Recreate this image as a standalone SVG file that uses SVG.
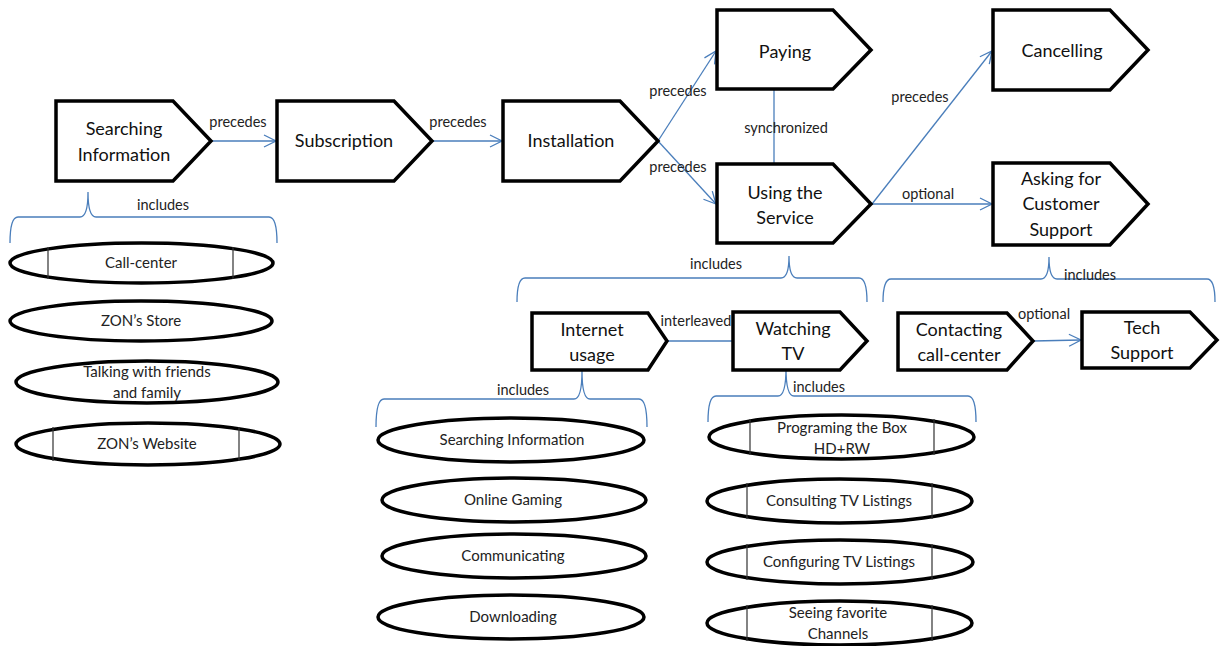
<svg xmlns="http://www.w3.org/2000/svg" width="1220" height="646" viewBox="0 0 1220 646">
<style>
.node{fill:#fff;stroke:#000;stroke-width:3.5;stroke-linejoin:miter}
.nt{font-family:Lato,"Liberation Sans",sans-serif;font-size:18px;fill:#111;text-anchor:middle}
.el{fill:#fff;stroke:#000;stroke-width:3.5}
.vl{stroke:#333;stroke-width:1.2}
.et{font-family:Lato,"Liberation Sans",sans-serif;font-size:15px;fill:#222;text-anchor:middle}
.cn{fill:none;stroke:#4a7ebb;stroke-width:1.3}
.lb{font-family:Lato,"Liberation Sans",sans-serif;font-size:14.5px;fill:#222;text-anchor:middle}
</style>
<defs>
<marker id="arr" markerUnits="userSpaceOnUse" markerWidth="16" markerHeight="16" refX="13" refY="7" orient="auto">
<path d="M1,1 L13,7 L1,13" fill="none" stroke="#4a7ebb" stroke-width="1.3"/>
</marker>
</defs>
<rect width="1220" height="646" fill="#fff"/>

<g id="connectors">
<path class="cn" d="M212,141 H276" marker-end="url(#arr)"/>
<path class="cn" d="M432,141 H502" marker-end="url(#arr)"/>
<path class="cn" d="M658,141 L716,51" marker-end="url(#arr)"/>
<path class="cn" d="M658,141 L716,204" marker-end="url(#arr)"/>
<path class="cn" d="M774,89 V164"/>
<path class="cn" d="M872,204 L992,51" marker-end="url(#arr)"/>
<path class="cn" d="M872,204 H992" marker-end="url(#arr)"/>
<path class="cn" d="M667,341 H733"/>
<path class="cn" d="M1033,341 L1081,340" marker-end="url(#arr)"/>
<path class="cn" d="M10,243 Q10,217 18,217 H80 Q88,217 88,192 Q88,217 96,217 H269 Q277,217 277,243"/>
<path class="cn" d="M517,302 Q517,278 525,278 H781 Q789,278 789,256 Q789,278 797,278 H859 Q867,278 867,302"/>
<path class="cn" d="M883,302 Q883,279 891,279 H1041 Q1049,279 1049,257 Q1049,279 1057,279 H1207 Q1215,279 1215,302"/>
<path class="cn" d="M376,427 Q376,399 384,399 H574 Q582,399 582,371 Q582,399 590,399 H639 Q647,399 647,427"/>
<path class="cn" d="M708,422 Q708,396 716,396 H778 Q786,396 786,368 Q786,396 794,396 H968 Q976,396 976,422"/>
<text class="lb" x="238" y="127">precedes</text>
<text class="lb" x="458" y="127">precedes</text>
<text class="lb" x="678" y="96">precedes</text>
<text class="lb" x="678" y="172">precedes</text>
<text class="lb" x="786" y="133">synchronized</text>
<text class="lb" x="920" y="102">precedes</text>
<text class="lb" x="928" y="199">optional</text>
<text class="lb" x="1044" y="319">optional</text>
<text class="lb" x="696" y="326">interleaved</text>
<text class="lb" x="163" y="210">includes</text>
<text class="lb" x="716" y="269">includes</text>
<text class="lb" x="1090" y="280">includes</text>
<text class="lb" x="523" y="395">includes</text>
<text class="lb" x="819" y="392">includes</text>
</g>

<g id="searching-information">
<path class="node" d="M56,101 H173 L211,141 L173,181 H56 Z"/>
<text class="nt" x="124" y="135">Searching</text>
<text class="nt" x="124" y="161">Information</text>
</g>
<g id="subscription">
<path class="node" d="M277,101 H394 L432,141 L394,181 H277 Z"/>
<text class="nt" x="344" y="147">Subscription</text>
</g>
<g id="installation">
<path class="node" d="M503,101 H620 L658,141 L620,181 H503 Z"/>
<text class="nt" x="571" y="147">Installation</text>
</g>
<g id="paying">
<path class="node" d="M717,10 H833 L871,50 L833,89 H717 Z"/>
<text class="nt" x="785" y="58">Paying</text>
</g>
<g id="using-the-service">
<path class="node" d="M717,164 H833 L871,204 L833,243 H717 Z"/>
<text class="nt" x="785" y="199">Using the</text>
<text class="nt" x="785" y="224">Service</text>
</g>
<g id="cancelling">
<path class="node" d="M993,10 H1110 L1148,50 L1110,90 H993 Z"/>
<text class="nt" x="1062" y="57">Cancelling</text>
</g>
<g id="asking-customer-support">
<path class="node" d="M993,163 H1110 L1148,204 L1110,245 H993 Z"/>
<text class="nt" x="1061" y="185">Asking for</text>
<text class="nt" x="1061" y="210">Customer</text>
<text class="nt" x="1061" y="236">Support</text>
</g>
<g id="internet-usage">
<path class="node" d="M532,313 H648 L667,341 L648,370 H532 Z"/>
<text class="nt" x="592" y="336">Internet</text>
<text class="nt" x="592" y="361">usage</text>
</g>
<g id="watching-tv">
<path class="node" d="M733,312 H840 L867,341 L840,370 H733 Z"/>
<text class="nt" x="793" y="335">Watching</text>
<text class="nt" x="793" y="360">TV</text>
</g>
<g id="contacting-call-center">
<path class="node" d="M898,313 H1007 L1033,341 L1007,370 H898 Z"/>
<text class="nt" x="959" y="336">Contacting</text>
<text class="nt" x="959" y="361">call-center</text>
</g>
<g id="tech-support">
<path class="node" d="M1082,312 H1190 L1217,340 L1190,368 H1082 Z"/>
<text class="nt" x="1142" y="334">Tech</text>
<text class="nt" x="1142" y="359">Support</text>
</g>

<g id="call-center">
<ellipse class="el" cx="141.5" cy="263" rx="131.5" ry="20"/>
<path class="vl" d="M48,247 V279 M233,247 V279"/>
<text class="et" x="141" y="268">Call-center</text>
</g>
<g id="zons-store">
<ellipse class="el" cx="141" cy="321" rx="131" ry="20"/>
<text class="et" x="141" y="326">ZON’s Store</text>
</g>
<g id="talking-friends">
<ellipse class="el" cx="147" cy="382" rx="131" ry="21"/>
<text class="et" x="147" y="377">Talking with friends</text>
<text class="et" x="147" y="398">and family</text>
</g>
<g id="zons-website">
<ellipse class="el" cx="148" cy="444" rx="132" ry="21"/>
<path class="vl" d="M53,427 V461 M239,427 V461"/>
<text class="et" x="147" y="449">ZON’s Website</text>
</g>

<g id="searching-information-2">
<ellipse class="el" cx="511" cy="440" rx="133" ry="22"/>
<text class="et" x="512" y="445">Searching Information</text>
</g>
<g id="online-gaming">
<ellipse class="el" cx="514" cy="500" rx="132" ry="22"/>
<text class="et" x="513" y="505">Online Gaming</text>
</g>
<g id="communicating">
<ellipse class="el" cx="514" cy="556" rx="132" ry="22"/>
<text class="et" x="513" y="561">Communicating</text>
</g>
<g id="downloading">
<ellipse class="el" cx="511" cy="617" rx="133" ry="22"/>
<text class="et" x="513" y="622">Downloading</text>
</g>

<g id="programing-box">
<ellipse class="el" cx="841.5" cy="437" rx="132.5" ry="22"/>
<path class="vl" d="M750,419 V455 M934,419 V455"/>
<text class="et" x="842" y="433">Programing the Box</text>
<text class="et" x="842" y="454">HD+RW</text>
</g>
<g id="consulting-tv">
<ellipse class="el" cx="839.5" cy="501" rx="132.5" ry="22"/>
<path class="vl" d="M747,483 V519 M932,483 V519"/>
<text class="et" x="839" y="506">Consulting TV Listings</text>
</g>
<g id="configuring-tv">
<ellipse class="el" cx="840" cy="562" rx="133" ry="22"/>
<path class="vl" d="M747,544 V580 M932,544 V580"/>
<text class="et" x="839" y="567">Configuring TV Listings</text>
</g>
<g id="seeing-channels">
<ellipse class="el" cx="839.5" cy="623" rx="132.5" ry="22"/>
<path class="vl" d="M747,605 V641 M932,605 V641"/>
<text class="et" x="838" y="618">Seeing favorite</text>
<text class="et" x="838" y="639">Channels</text>
</g>
</svg>
